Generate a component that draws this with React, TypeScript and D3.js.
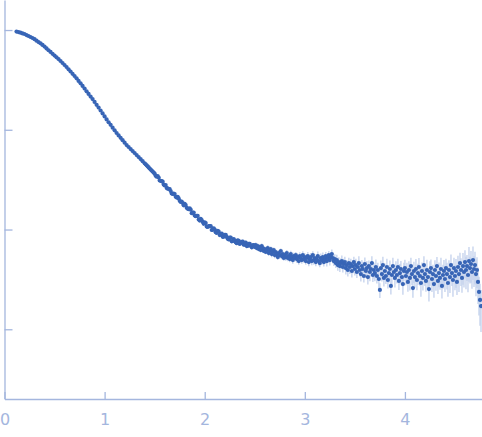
import React, { useEffect, useRef } from 'react';
import * as d3 from 'd3';

// scattering vector q (x values)
const qValues = [
  0.12, 0.14, 0.16, 0.18, 0.2, 0.22, 0.24, 0.26, 0.28, 0.3,
  0.32, 0.34, 0.36, 0.38, 0.4, 0.42, 0.44, 0.46, 0.48, 0.5,
  0.52, 0.54, 0.56, 0.58, 0.6, 0.62, 0.64, 0.66, 0.68, 0.7,
  0.72, 0.74, 0.76, 0.78, 0.8, 0.82, 0.84, 0.86, 0.88, 0.9,
  0.92, 0.94, 0.96, 0.98, 1.0, 1.02, 1.04, 1.06, 1.08, 1.1,
  1.12, 1.14, 1.16, 1.18, 1.2, 1.22, 1.24, 1.26, 1.28, 1.3,
  1.32, 1.34, 1.36, 1.38,
  1.4, 1.41, 1.42, 1.43, 1.44, 1.45, 1.46, 1.47, 1.48, 1.49,
  1.5, 1.51, 1.52, 1.53, 1.54, 1.55, 1.56, 1.57, 1.58, 1.59,
  1.6, 1.61, 1.62, 1.63, 1.64, 1.65, 1.66, 1.67, 1.68, 1.69,
  1.7, 1.71, 1.72, 1.73, 1.74, 1.75, 1.76, 1.77, 1.78, 1.79,
  1.8, 1.81, 1.82, 1.83, 1.84, 1.85, 1.86, 1.87, 1.88, 1.89,
  1.9, 1.91, 1.92, 1.93, 1.94, 1.95, 1.96, 1.97, 1.98, 1.99,
  2.0, 2.01, 2.02, 2.03, 2.04, 2.05, 2.06, 2.07, 2.08, 2.09,
  2.1, 2.11, 2.12, 2.13, 2.14, 2.15, 2.16, 2.17, 2.18, 2.19,
  2.2, 2.21, 2.22, 2.23, 2.24, 2.25, 2.26, 2.27, 2.28, 2.29,
  2.3, 2.31, 2.32, 2.33, 2.34, 2.35, 2.36, 2.37, 2.38, 2.39,
  2.4, 2.41, 2.42, 2.43, 2.44, 2.45, 2.46, 2.47, 2.48, 2.49,
  2.5, 2.51, 2.52, 2.53, 2.54, 2.55, 2.56, 2.57, 2.58, 2.59,
  2.6, 2.61, 2.62, 2.63, 2.64, 2.65, 2.66, 2.67, 2.68, 2.69,
  2.7, 2.71, 2.72, 2.73, 2.74, 2.75, 2.76, 2.77, 2.78, 2.79,
  2.8, 2.81, 2.82, 2.83, 2.84, 2.85, 2.86, 2.87, 2.88, 2.89,
  2.9, 2.91, 2.92, 2.93, 2.94, 2.95, 2.96, 2.97, 2.98, 2.99,
  3.0, 3.01, 3.02, 3.03, 3.04, 3.05, 3.06, 3.07, 3.08, 3.09,
  3.1, 3.11, 3.12, 3.13, 3.14, 3.15, 3.16, 3.17, 3.18, 3.19,
  3.2, 3.21, 3.22, 3.23, 3.24, 3.25, 3.26, 3.27, 3.28, 3.29,
  3.3, 3.31, 3.32, 3.33, 3.34, 3.35, 3.36, 3.37, 3.38, 3.39,
  3.4, 3.41, 3.42, 3.43, 3.44, 3.45, 3.46, 3.47, 3.48, 3.49,
  3.5, 3.51, 3.52, 3.53, 3.54, 3.55, 3.56, 3.57, 3.58, 3.59,
  3.6, 3.61, 3.62, 3.63, 3.64, 3.65, 3.66, 3.67, 3.68, 3.69,
  3.7, 3.71, 3.72, 3.73, 3.74, 3.75, 3.76, 3.77, 3.78, 3.79,
  3.8, 3.81, 3.82, 3.83, 3.84, 3.85, 3.86, 3.87, 3.88, 3.89,
  3.9, 3.91, 3.92, 3.93, 3.94, 3.95, 3.96, 3.97, 3.98, 3.99,
  4.0, 4.01, 4.02, 4.03, 4.04, 4.05, 4.06, 4.07, 4.08, 4.09,
  4.1, 4.11, 4.12, 4.13, 4.14, 4.15, 4.16, 4.17, 4.18, 4.19,
  4.2, 4.21, 4.22, 4.23, 4.24, 4.25, 4.26, 4.27, 4.28, 4.29,
  4.3, 4.31, 4.32, 4.33, 4.34, 4.35, 4.36, 4.37, 4.38, 4.39,
  4.4, 4.41, 4.42, 4.43, 4.44, 4.45, 4.46, 4.47, 4.48, 4.49,
  4.5, 4.51, 4.52, 4.53, 4.54, 4.55, 4.56, 4.57, 4.58, 4.59,
  4.6, 4.61, 4.62, 4.63, 4.64, 4.65, 4.66, 4.67, 4.68, 4.69,
  4.7, 4.71, 4.72, 4.73, 4.74, 4.75, 4.76,
];

// scattered intensity I(q), arbitrary units
const intensity = [
  966, 953, 940, 924, 912, 891, 871, 851, 832, 809,
  783, 758, 736, 709, 682, 654, 627, 603, 578, 555,
  532, 511, 489, 467, 446, 426, 404, 384, 364, 346,
  328, 309, 292, 275, 259, 243, 229, 215, 203, 190,
  178, 167, 156, 146, 136, 127, 119, 112, 105, 98.7,
  92.8, 87.8, 83.0, 78.6, 74.3, 70.3, 67.2, 64.1, 61.2, 58.5,
  55.8, 53.2, 50.8, 48.4,
  46.2, 45.1, 44.0, 43.0, 41.9, 40.9, 39.9, 39.0, 38.1, 37.2,
  36.3, 34.7, 33.8, 34.4, 33.2, 31.0, 30.8, 30.6, 30.2, 28.2,
  27.7, 27.9, 26.1, 25.7, 25.6, 25.5, 24.3, 23.0, 22.7, 22.9,
  22.7, 21.3, 20.9, 21.3, 20.5, 19.4, 18.9, 19.1, 18.4, 17.5,
  18.1, 17.6, 16.5, 16.2, 16.0, 16.3, 15.8, 14.6, 14.8, 14.8,
  13.8, 13.6, 13.7, 13.7, 12.6, 12.3, 12.8, 12.4, 11.9, 11.4,
  11.8, 11.6, 10.7, 10.6, 10.8, 10.8, 10.8, 9.89, 9.93, 10.3,
  9.98, 9.41, 9.24, 9.70, 9.52, 8.80, 8.95, 9.12, 8.45, 8.47,
  8.85, 8.86, 8.43, 8.07, 7.96, 8.28, 8.31, 7.61, 7.67, 8.02,
  7.74, 7.45, 7.29, 7.80, 7.71, 7.17, 7.34, 7.52, 7.58, 7.05,
  7.07, 7.40, 6.82, 6.87, 7.20, 7.20, 6.88, 6.63, 6.96, 6.97,
  6.68, 6.99, 6.52, 6.83, 6.37, 6.68, 6.23, 6.83, 6.52, 6.09,
  6.37, 5.95, 6.23, 6.52, 5.81, 6.09, 6.37, 5.68, 5.95, 6.23,
  5.55, 5.95, 5.68, 5.30, 5.81, 5.55, 6.09, 5.42, 5.68, 5.18,
  5.55, 5.30, 5.81, 5.18, 5.42, 5.06, 5.68, 5.30, 4.94, 5.42,
  5.18, 5.55, 5.06, 5.30, 4.83, 5.42, 5.18, 4.94, 5.55, 5.06,
  5.30, 4.83, 5.18, 5.42, 4.72, 5.06, 5.30, 4.83, 5.55, 4.94,
  5.18, 4.72, 5.06, 5.42, 4.83, 4.61, 5.18, 4.94, 5.30, 4.72,
  5.06, 5.42, 4.83, 5.18, 5.55, 4.94, 5.30, 5.68, 5.18, 4.83,
  5.06, 4.61, 4.94, 4.40, 4.72, 4.30, 4.61, 4.83, 4.21, 4.51,
  4.72, 4.11, 4.40, 3.93, 4.61, 4.21, 4.51, 3.84, 4.30, 4.72,
  4.02, 4.40, 3.75, 4.21, 4.61, 3.93, 3.58, 4.30, 4.02, 3.42,
  4.51, 3.84, 4.11, 3.34, 4.30, 3.75, 4.02, 4.61, 3.50, 3.93,
  3.66, 4.21, 3.42, 3.93, 3.19, 2.48, 4.11, 3.58, 4.40, 3.27,
  3.84, 3.42, 4.21, 3.12, 3.66, 4.02, 2.72, 3.50, 4.30, 3.75,
  3.27, 3.93, 3.50, 4.21, 3.05, 3.66, 4.02, 3.34, 2.84, 3.84,
  4.11, 3.42, 3.75, 2.98, 3.93, 3.27, 4.30, 3.58, 2.59, 3.84,
  3.34, 4.02, 3.12, 3.66, 4.21, 3.42, 2.91, 3.84, 3.27, 4.40,
  3.58, 3.05, 3.93, 3.34, 2.53, 3.75, 4.11, 3.19, 3.58, 2.84,
  3.93, 3.42, 4.30, 3.05, 3.66, 3.27, 4.02, 2.72, 3.50, 3.84,
  3.19, 4.11, 3.58, 2.91, 3.93, 3.34, 4.40, 3.66, 3.12, 4.11,
  3.42, 3.84, 2.98, 4.21, 3.58, 4.61, 3.93, 3.27, 4.30, 3.75,
  4.72, 3.93, 4.30, 3.50, 4.83, 4.11, 4.51, 3.75, 4.94, 4.02,
  4.40, 3.58, 3.93, 2.98, 2.37, 1.97, 1.71,
];

// relative uncertainty sigma / I
const relError = [
  0.004, 0.004, 0.004, 0.004, 0.004, 0.004, 0.004, 0.004, 0.004, 0.004,
  0.004, 0.004, 0.004, 0.004, 0.004, 0.004, 0.004, 0.004, 0.004, 0.004,
  0.005, 0.005, 0.005, 0.005, 0.005, 0.005, 0.005, 0.005, 0.005, 0.005,
  0.005, 0.005, 0.005, 0.005, 0.005, 0.005, 0.005, 0.005, 0.005, 0.005,
  0.006, 0.006, 0.006, 0.007, 0.007, 0.007, 0.008, 0.008, 0.008, 0.009,
  0.009, 0.009, 0.010, 0.010, 0.010, 0.011, 0.011, 0.012, 0.012, 0.012,
  0.013, 0.013, 0.014, 0.014,
  0.015, 0.015, 0.015, 0.016, 0.016, 0.016, 0.016, 0.017, 0.017, 0.017,
  0.017, 0.018, 0.018, 0.019, 0.019, 0.018, 0.018, 0.020, 0.020, 0.021,
  0.021, 0.020, 0.020, 0.021, 0.023, 0.022, 0.022, 0.023, 0.024, 0.023,
  0.024, 0.025, 0.025, 0.024, 0.024, 0.026, 0.026, 0.027, 0.027, 0.026,
  0.026, 0.028, 0.028, 0.029, 0.029, 0.028, 0.028, 0.029, 0.030, 0.031,
  0.031, 0.030, 0.030, 0.032, 0.032, 0.033, 0.033, 0.032, 0.032, 0.034,
  0.034, 0.035, 0.035, 0.034, 0.034, 0.036, 0.036, 0.037, 0.037, 0.036,
  0.036, 0.038, 0.038, 0.039, 0.039, 0.038, 0.038, 0.040, 0.040, 0.041,
  0.041, 0.040, 0.040, 0.042, 0.042, 0.043, 0.043, 0.042, 0.042, 0.044,
  0.044, 0.045, 0.045, 0.044, 0.044, 0.046, 0.046, 0.047, 0.047, 0.046,
  0.046, 0.048, 0.048, 0.049, 0.049, 0.048, 0.048, 0.050, 0.050, 0.050,
  0.05, 0.06, 0.05, 0.06, 0.05, 0.06, 0.05, 0.06, 0.06, 0.05,
  0.06, 0.05, 0.06, 0.07, 0.06, 0.05, 0.06, 0.07, 0.06, 0.06,
  0.07, 0.06, 0.07, 0.06, 0.07, 0.08, 0.06, 0.07, 0.07, 0.06,
  0.07, 0.08, 0.07, 0.07, 0.08, 0.07, 0.08, 0.07, 0.08, 0.08,
  0.08, 0.07, 0.09, 0.08, 0.08, 0.09, 0.08, 0.08, 0.09, 0.08,
  0.09, 0.08, 0.09, 0.10, 0.09, 0.08, 0.10, 0.09, 0.09, 0.10,
  0.10, 0.09, 0.10, 0.11, 0.10, 0.09, 0.11, 0.10, 0.11, 0.10,
  0.11, 0.10, 0.12, 0.11, 0.10, 0.12, 0.11, 0.11, 0.12, 0.11,
  0.12, 0.11, 0.13, 0.12, 0.12, 0.13, 0.12, 0.14, 0.12, 0.13,
  0.13, 0.14, 0.12, 0.14, 0.13, 0.15, 0.13, 0.14, 0.15, 0.13,
  0.14, 0.16, 0.13, 0.15, 0.17, 0.14, 0.16, 0.15, 0.18, 0.14,
  0.16, 0.15, 0.18, 0.16, 0.14, 0.19, 0.16, 0.17, 0.15, 0.18,
  0.17, 0.19, 0.16, 0.18, 0.20, 0.17, 0.19, 0.16, 0.21, 0.18,
  0.19, 0.17, 0.21, 0.18, 0.20, 0.22, 0.18, 0.19, 0.21, 0.17,
  0.20, 0.22, 0.18, 0.21, 0.19, 0.23, 0.20, 0.18, 0.22, 0.21,
  0.21, 0.19, 0.24, 0.20, 0.22, 0.25, 0.21, 0.23, 0.20, 0.24,
  0.22, 0.26, 0.21, 0.24, 0.23, 0.20, 0.27, 0.22, 0.25, 0.23,
  0.24, 0.22, 0.27, 0.23, 0.25, 0.28, 0.22, 0.26, 0.24, 0.27,
  0.25, 0.29, 0.23, 0.26, 0.28, 0.24, 0.30, 0.25, 0.27, 0.29,
  0.26, 0.24, 0.30, 0.27, 0.25, 0.31, 0.28, 0.26, 0.32, 0.27,
  0.28, 0.32, 0.26, 0.30, 0.34, 0.27, 0.31, 0.29, 0.35, 0.30,
  0.31, 0.36, 0.29, 0.33, 0.38, 0.30, 0.35, 0.32, 0.37, 0.34,
  0.36, 0.40, 0.34, 0.40, 0.42, 0.45, 0.45,
];

const xTicks = [0, 1, 2, 3, 4];
const yTicks = [1, 10, 100, 1000];

const W = 482;
const H = 437;

export default function App() {
  const ref = useRef<SVGSVGElement>(null);

  useEffect(() => {
    const svg = d3.select(ref.current);
    svg.selectAll('*').remove();

    const x = d3.scaleLinear().domain([0, 4.77]).range([4.5, 482]);
    const y = d3.scaleLog().domain([0.2, 2000]).range([399, 0]);

    const axisColor = '#a4b6de';

    const data = qValues.map((q, i) => ({
      q,
      I: intensity[i],
      s: intensity[i] * relError[i],
    }));

    // axes
    const gx = svg
      .append('g')
      .attr('transform', 'translate(0,399)')
      .call(
        d3
          .axisBottom(x)
          .tickValues(xTicks)
          .tickSizeInner(-7)
          .tickSizeOuter(0)
          .tickPadding(14.6)
          .tickFormat(d3.format('d'))
      );
    gx.select('.domain').attr('stroke', axisColor).attr('stroke-width', 1.3);
    gx.selectAll('.tick line').attr('stroke', axisColor).attr('stroke-width', 1.3);
    gx.selectAll('.tick text')
      .attr('fill', axisColor)
      .attr('font-family', 'DejaVu Sans, sans-serif')
      .attr('font-size', 16);

    const gy = svg
      .append('g')
      .attr('transform', 'translate(4.5,0)')
      .call(
        d3
          .axisLeft(y)
          .tickValues(yTicks)
          .tickSizeInner(-8)
          .tickSizeOuter(0)
          .tickFormat(() => '')
      );
    gy.select('.domain').attr('stroke', axisColor).attr('stroke-width', 1.3);
    gy.selectAll('.tick line').attr('stroke', axisColor).attr('stroke-width', 1.3);

    // error bars
    svg
      .append('g')
      .selectAll('line')
      .data(data)
      .join('line')
      .attr('x1', (d) => x(d.q))
      .attr('x2', (d) => x(d.q))
      .attr('y1', (d) => y(d.I + d.s))
      .attr('y2', (d) => y(Math.max(d.I - d.s, 0.21)))
      .attr('stroke', '#c3d1ec')
      .attr('stroke-width', 1.3);

    // points
    svg
      .append('g')
      .selectAll('circle')
      .data(data)
      .join('circle')
      .attr('cx', (d) => x(d.q))
      .attr('cy', (d) => y(d.I))
      .attr('r', 2.1)
      .attr('fill', '#3865b6');
  }, []);

  return (
    <svg
      ref={ref}
      width={W}
      height={H}
      style={{ position: 'absolute', left: 0, top: 0, background: '#fff' }}
    />
  );
}
